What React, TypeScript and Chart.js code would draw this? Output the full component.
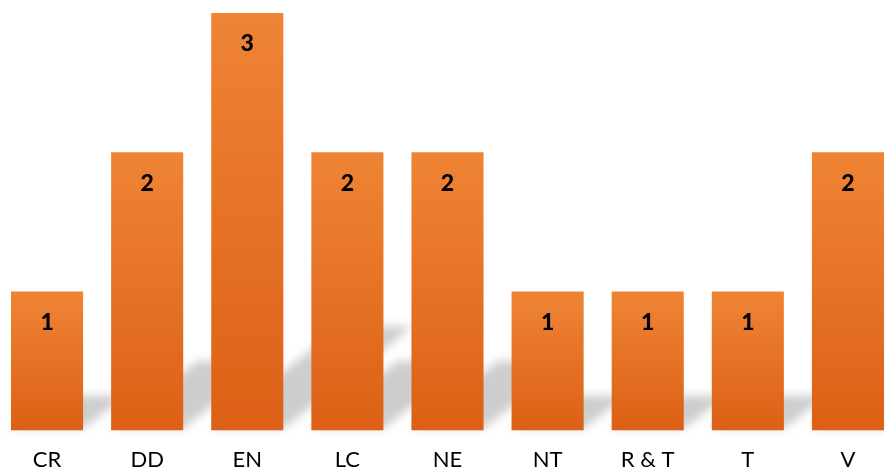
import React, { useEffect, useRef } from "react";
import { Chart, registerables } from "chart.js";

Chart.register(...registerables);

const categories = ["CR", "DD", "EN", "LC", "NE", "NT", "R & T", "T", "V"];
const counts = [1, 2, 3, 2, 2, 1, 1, 1, 2];
const yMax = 3;

const FONT = "Lato, 'Open Sans', sans-serif";
const CANVAS_W = 901;
const CANVAS_H = 491;

const shadowPlugin = {
  id: "barShadow",
  beforeDatasetsDraw(chart: any) {
    const ctx = chart.ctx;
    const meta = chart.getDatasetMeta(0);
    ctx.save();
    ctx.filter = "blur(5px)";
    ctx.fillStyle = "#cdcdcd";
    meta.data.forEach((bar: any) => {
      const p = bar.getProps(["x", "y", "base", "width"], true);
      const h = p.base - p.y;
      const x0 = p.x - p.width / 2;
      const x1 = p.x + p.width / 2;
      const dx = h * 0.31;
      const dy = h * 0.25;
      ctx.beginPath();
      ctx.moveTo(x0, p.base - 2);
      ctx.lineTo(x1, p.base - 2);
      ctx.lineTo(x1 + dx, p.base - dy);
      ctx.lineTo(x0 + dx, p.base - dy);
      ctx.closePath();
      ctx.fill();
    });
    ctx.restore();
  },
};

const labelPlugin = {
  id: "barLabels",
  afterDatasetsDraw(chart: any) {
    const ctx = chart.ctx;
    const meta = chart.getDatasetMeta(0);
    ctx.save();
    ctx.font = `900 23px ${FONT}`;
    ctx.fillStyle = "#000000";
    ctx.textAlign = "center";
    ctx.textBaseline = "middle";
    meta.data.forEach((bar: any, i: number) => {
      const p = bar.getProps(["x", "y"], true);
      ctx.fillText(String(counts[i]), p.x, p.y + 31);
    });
    ctx.restore();
  },
};

export default function App() {
  const ref = useRef<HTMLCanvasElement>(null);

  useEffect(() => {
    if (!ref.current) return;
    const chart = new Chart(ref.current, {
      type: "bar",
      data: {
        labels: categories,
        datasets: [
          {
            data: counts,
            backgroundColor: (c: any) => {
              const ch = c.chart;
              const ys = ch.scales?.y;
              if (!ys || c.dataIndex === undefined) return "#E67024";
              const top = ys.getPixelForValue(counts[c.dataIndex]);
              const bottom = ys.getPixelForValue(0);
              if (!isFinite(top) || !isFinite(bottom) || top === bottom) return "#E67024";
              const g = ch.ctx.createLinearGradient(0, top, 0, bottom);
              g.addColorStop(0, "#EF8435");
              g.addColorStop(1, "#DC6015");
              return g;
            },
            borderWidth: 0,
            categoryPercentage: 0.8,
            barPercentage: 0.9,
          },
        ],
      },
      options: {
        responsive: false,
        animation: false,
        layout: { padding: { top: 13, bottom: 2, left: 0, right: 0 } },
        plugins: {
          legend: { display: false },
          tooltip: { enabled: false },
        },
        scales: {
          x: {
            grid: { display: false, drawTicks: false },
            border: { display: false },
            ticks: {
              color: "#000000",
              font: { family: FONT, size: 22 },
              padding: 16,
              maxRotation: 0,
              autoSkip: false,
            },
          },
          y: {
            display: false,
            min: 0,
            max: yMax,
          },
        },
      },
      plugins: [shadowPlugin, labelPlugin],
    });
    return () => chart.destroy();
  }, []);

  return (
    <div
      style={{
        position: "fixed",
        left: 0,
        top: 0,
        width: 884,
        height: 468,
        overflow: "hidden",
        background: "#ffffff",
      }}
    >
      <div style={{ position: "absolute", left: -3, top: 0, width: CANVAS_W, height: CANVAS_H }}>
        <canvas ref={ref} width={CANVAS_W} height={CANVAS_H} style={{ display: "block" }} />
      </div>
    </div>
  );
}
